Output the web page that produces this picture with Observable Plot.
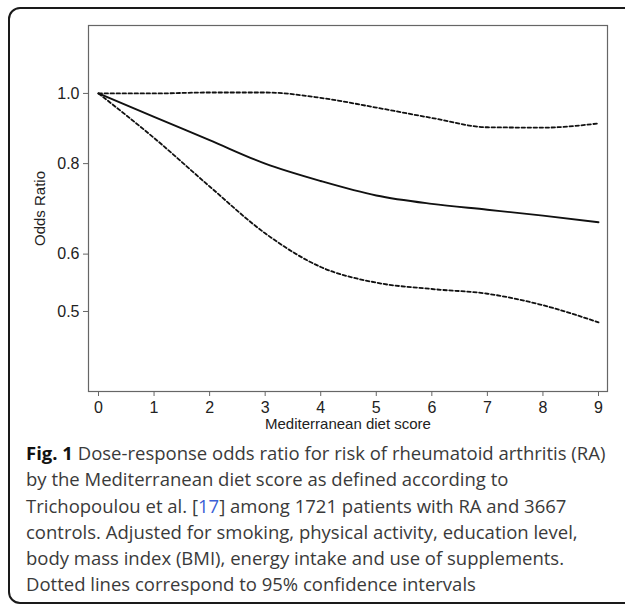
<!DOCTYPE html>
<html>
<head>
<meta charset="utf-8">
<script src="https://cdn.jsdelivr.net/npm/d3@7"></script>
<script src="https://cdn.jsdelivr.net/npm/@observablehq/plot@0.6"></script>
<style>
  html, body { margin: 0; padding: 0; background: #fff; overflow: hidden; width: 625px; height: 607px; }
  #box { position: absolute; left: 8px; top: 7px; width: 700px; height: 597px; border: 2px solid #1a1a1a; border-radius: 12px; box-sizing: border-box; }
  #chart { position: absolute; left: 0; top: 0; }
  #chart svg text { font-size: 16px; fill: #222; }
  #chart svg g[aria-label="x-axis label"] text, #chart svg g[aria-label="y-axis label"] text { font-size: 15px; }
  #caption { position: absolute; left: 26px; top: 440px; font-family: "Open Sans", sans-serif; font-size: 18.5px; line-height: 26.3px; color: #3a3a3a; white-space: nowrap; }
  #caption b { color: #111; }
  #caption .ref { color: #3b5fd6; }
</style>
</head>
<body>
<div id="box"></div>
<div id="chart"></div>
<div id="caption">
<b>Fig. 1</b> Dose-response odds ratio for risk of rheumatoid arthritis (RA)<br>
by the Mediterranean diet score as defined according to<br>
Trichopoulou et al. [<span class="ref">17</span>] among 1721 patients with RA and 3667<br>
controls. Adjusted for smoking, physical activity, education level,<br>
body mass index (BMI), energy intake and use of supplements.<br>
Dotted lines correspond to 95% confidence intervals
</div>
<script>
const score = [0, 1, 2, 3, 4, 5, 6, 7, 8, 9];
const oddsRatio = [1.0, 0.928, 0.862, 0.800, 0.757, 0.723, 0.704, 0.691, 0.678, 0.664];
const upperCI = [1.0, 1.0, 1.003, 1.003, 0.986, 0.956, 0.925, 0.898, 0.897, 0.909];
const lowerCI = [1.0, 0.868, 0.744, 0.641, 0.576, 0.548, 0.537, 0.529, 0.510, 0.483];
const yTicks = [0.5, 0.6, 0.8, 1.0];
const xTicks = [0, 1, 2, 3, 4, 5, 6, 7, 8, 9];

const rows = score.map((s, i) => ({score: s, or: oddsRatio[i], lo: lowerCI[i], hi: upperCI[i]}));

const chart = Plot.plot({
  width: 625,
  height: 445,
  marginLeft: 88,
  marginRight: 18,
  marginTop: 25,
  marginBottom: 54,
  style: {fontFamily: "'Liberation Sans', Arial, sans-serif", fontSize: "16px", color: "#222", background: "transparent"},
  x: {domain: [-0.18, 9.162]},
  y: {type: "log", domain: [0.3877, 1.241]},
  marks: [
    Plot.frame({stroke: "#666", strokeWidth: 1.2}),
    Plot.axisX({ticks: xTicks, tickSize: 5, tickPadding: 5, tickFormat: d3.format("d"), stroke: "#666",
      label: "Mediterranean diet score", labelAnchor: "center", labelArrow: "none", labelOffset: 37}),
    Plot.axisY({ticks: yTicks, tickSize: 5, tickPadding: 4, tickFormat: d3.format(".1f"), stroke: "#666",
      label: "Odds Ratio", labelAnchor: "center", labelArrow: "none", labelOffset: 54}),
    Plot.line(rows, {x: "score", y: "hi", stroke: "#111", strokeWidth: 1.8, strokeDasharray: "3.5,2.5", curve: "monotone-x"}),
    Plot.line(rows, {x: "score", y: "lo", stroke: "#111", strokeWidth: 1.8, strokeDasharray: "3.5,2.5", curve: "monotone-x"}),
    Plot.line(rows, {x: "score", y: "or", stroke: "#111", strokeWidth: 1.9, curve: "monotone-x"})
  ]
});
document.getElementById("chart").appendChild(chart);
</script>
</body>
</html>
